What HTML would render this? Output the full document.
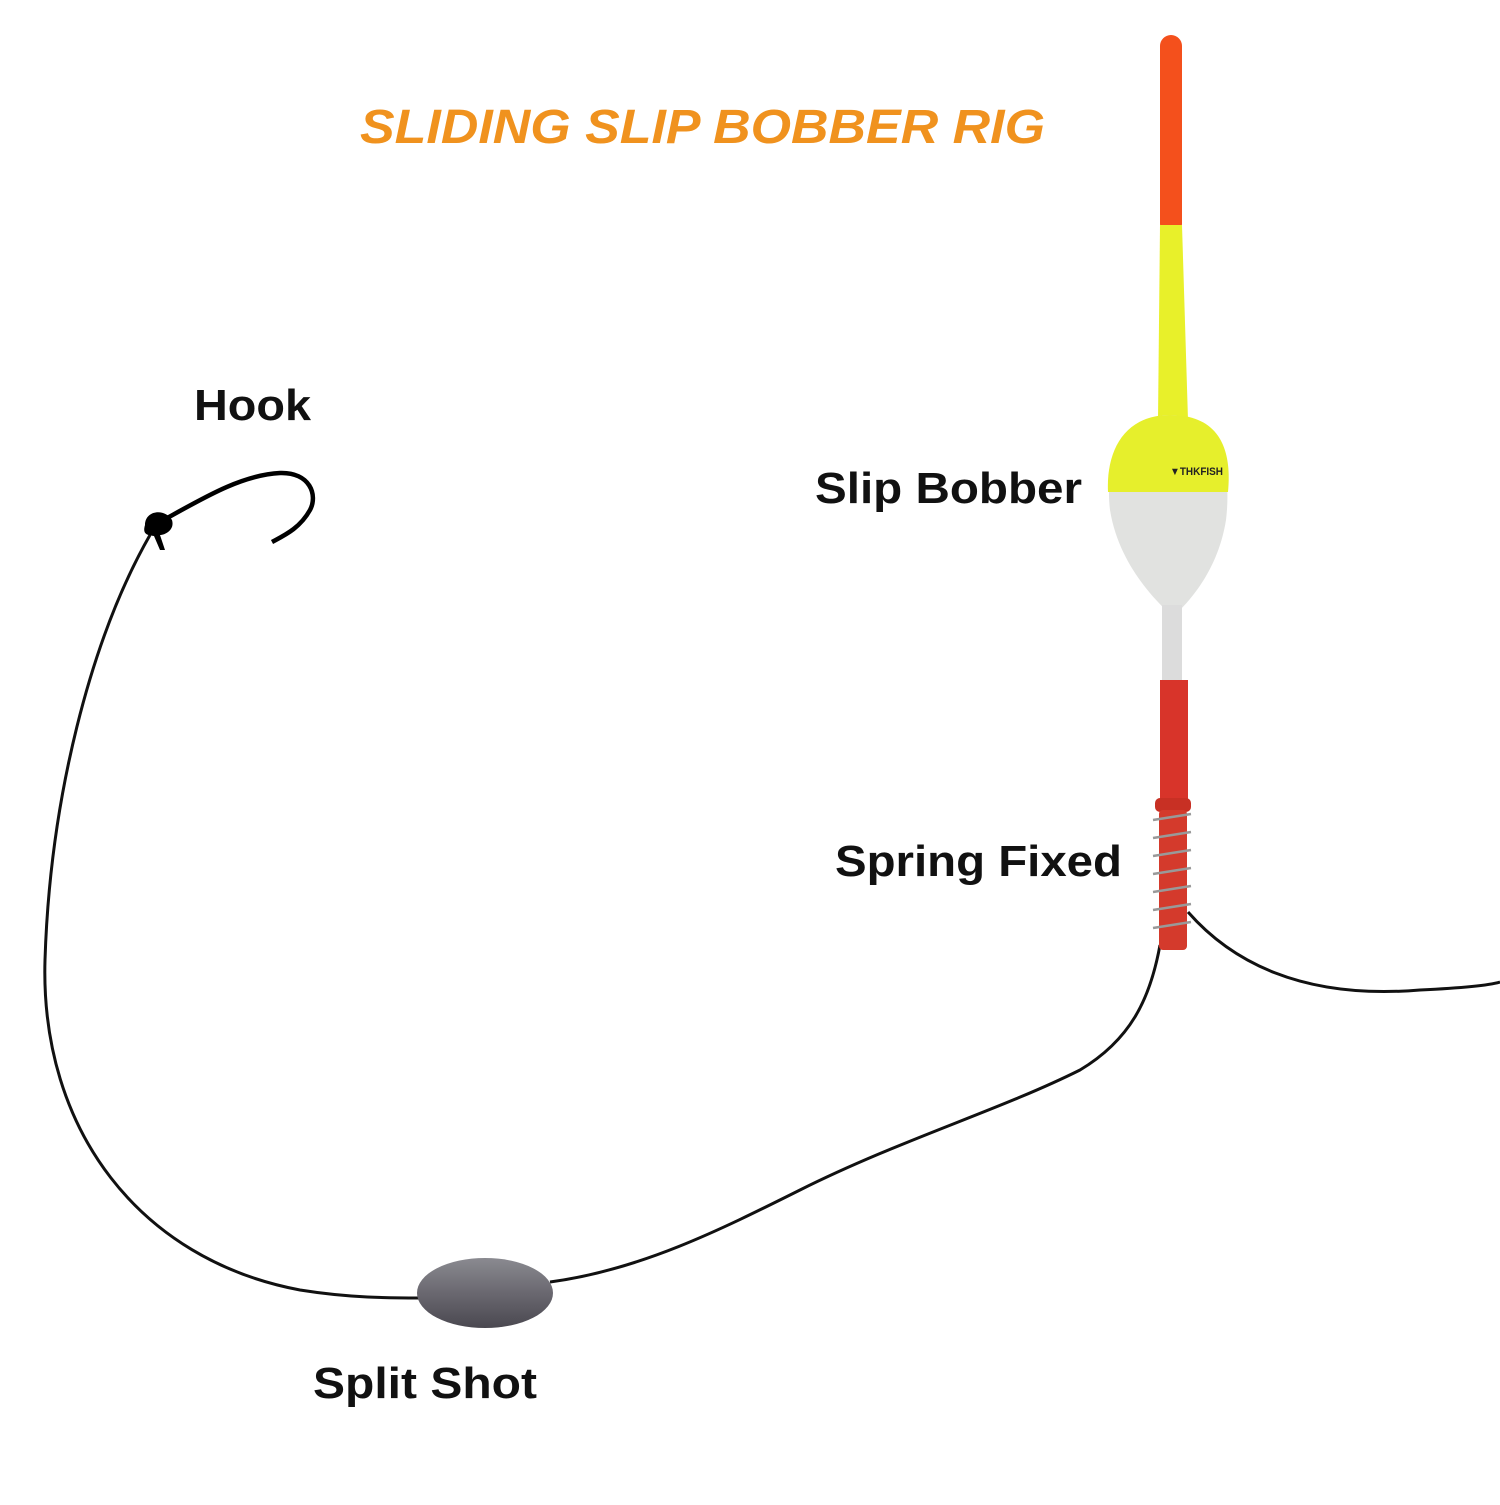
<!DOCTYPE html>
<html><head><style>
body{margin:0;background:#fff;width:1500px;height:1500px;overflow:hidden;font-family:"Liberation Sans",sans-serif}
</style></head><body>
<svg width="1500" height="1500" viewBox="0 0 1500 1500" xmlns="http://www.w3.org/2000/svg">
<defs>
<linearGradient id="lead" x1="0" y1="0" x2="0" y2="1"><stop offset="0" stop-color="#8a8a90"/><stop offset="0.5" stop-color="#6a6870"/><stop offset="1" stop-color="#4a4850"/></linearGradient>
</defs>
<text x="360" y="143" font-family="Liberation Sans" font-weight="bold" font-style="italic" font-size="48" fill="#f0921e" textLength="685" lengthAdjust="spacingAndGlyphs">SLIDING SLIP BOBBER RIG</text>
<text x="194" y="420" font-weight="bold" font-size="44" fill="#111" textLength="117" lengthAdjust="spacingAndGlyphs">Hook</text>
<text x="815" y="503" font-weight="bold" font-size="44" fill="#111" textLength="267" lengthAdjust="spacingAndGlyphs">Slip Bobber</text>
<text x="835" y="876" font-weight="bold" font-size="44" fill="#111" textLength="287" lengthAdjust="spacingAndGlyphs">Spring Fixed</text>
<text x="313" y="1398" font-weight="bold" font-size="44" fill="#111" textLength="224" lengthAdjust="spacingAndGlyphs">Split Shot</text>
<g fill="none" stroke="#111" stroke-width="3">
<path d="M150,535 C90,640 50,800 45,960 C40,1130 140,1260 300,1290 C350,1298 390,1298 420,1298"/>
<path d="M550,1282 C640,1270 720,1230 800,1190 C900,1140 1000,1110 1080,1070 C1130,1040 1150,1000 1160,945"/>
<path d="M1188,912 C1230,960 1300,1000 1420,990 C1460,988 1490,985 1500,982"/>
</g>
<path d="M160,522 C200,500 240,475 280,473 C310,472 318,495 310,510 C300,528 285,535 272,542" fill="none" stroke="#000" stroke-width="4.5"/>
<path d="M145,525 C145,510 165,508 172,520 C175,530 165,535 160,535 L165,550 L160,550 L154,536 C148,535 142,535 145,525Z" fill="#000"/>
<ellipse cx="485" cy="1293" rx="68" ry="35" fill="url(#lead)"/>
<rect x="1160" y="35" width="22" height="200" rx="11" fill="#f4501c"/>
<path d="M1160,225 L1182,225 L1188,420 L1158,420Z" fill="#e8f02a"/>
<path d="M1170,415 C1220,415 1232,470 1226,520 C1218,570 1190,600 1178,612 L1168,612 C1150,595 1118,560 1110,510 C1104,460 1125,415 1170,415Z" fill="#e1e2e0"/>
<path d="M1170,415 C1220,415 1232,450 1228,492 L1108,492 C1106,450 1125,415 1170,415Z" fill="#e6ef2c"/>
<text x="1170" y="475" font-weight="bold" font-size="11" fill="#222" textLength="53" lengthAdjust="spacingAndGlyphs">▼THKFISH</text>
<rect x="1162" y="605" width="20" height="78" fill="#dcdcdc"/>
<rect x="1160" y="680" width="28" height="122" fill="#d8342a"/>
<rect x="1155" y="798" width="36" height="14" rx="5" fill="#c83024"/>
<rect x="1159" y="810" width="28" height="140" rx="4" fill="#d43a2c"/>
<g stroke="#999" stroke-width="2.5" fill="none">
<path d="M1153,820 L1191,814 M1153,838 L1191,832 M1153,856 L1191,850 M1153,874 L1191,868 M1153,892 L1191,886 M1153,910 L1191,904 M1153,928 L1191,922"/>
</g>
</svg>
</body></html>
